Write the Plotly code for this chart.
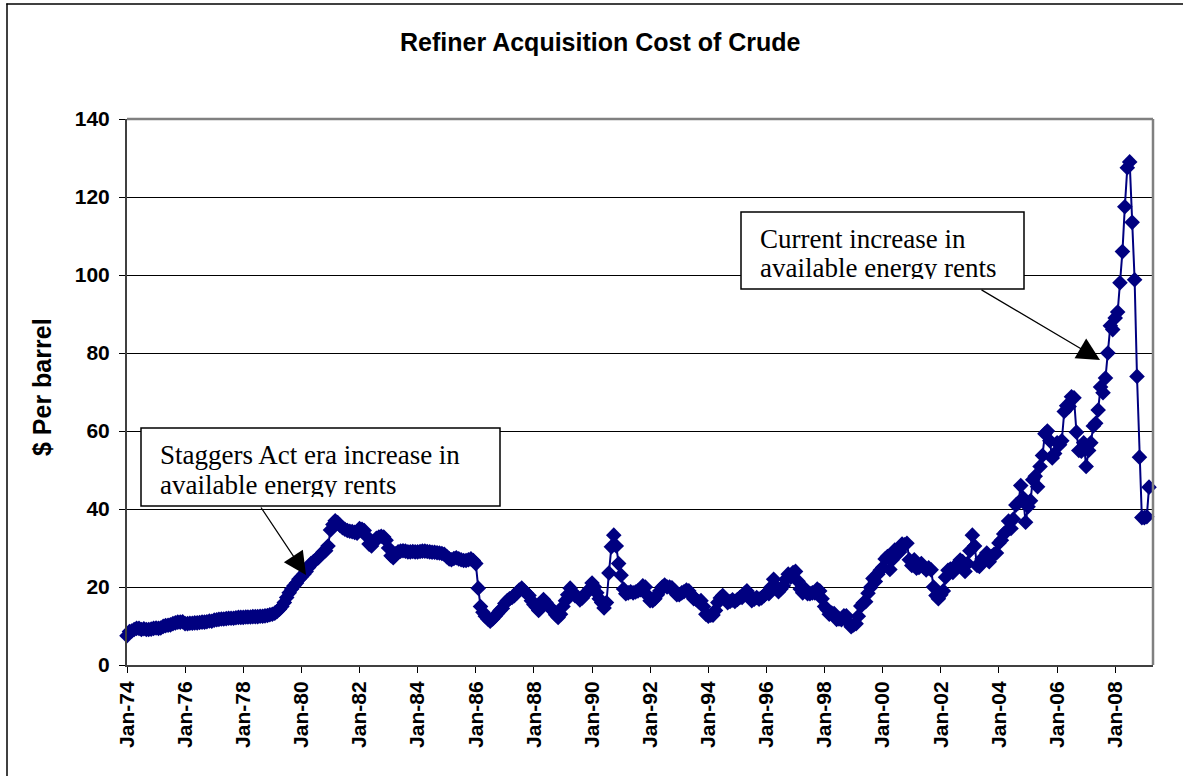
import pandas as pd
import plotly.graph_objects as go

# Monthly refiner acquisition cost of crude ($/bbl)
y1974 = [7.5, 8.6, 8.7, 9.1, 9.4, 9.4, 9.1, 9.3, 9.1, 9.1, 9.2, 9.4]
y1975 = [9.5, 9.4, 9.5, 9.9, 10.1, 10.2, 10.3, 10.6, 10.8, 11.0, 11.0, 11.1]
y1976 = [10.6, 10.6, 10.7, 10.7, 10.8, 10.8, 10.9, 11.0, 11.0, 11.1, 11.3, 11.2]
y1977 = [11.5, 11.6, 11.7, 11.8, 11.8, 11.9, 12.0, 12.0, 12.0, 12.1, 12.2, 12.2]
y1978 = [12.2, 12.3, 12.3, 12.3, 12.4, 12.4, 12.4, 12.5, 12.5, 12.6, 12.7, 12.9]
y1979 = [13.0, 13.3, 13.7, 14.3, 15.0, 16.0, 17.3, 18.5, 19.5, 20.3, 21.0, 22.0]
y1980 = [22.6, 23.3, 24.0, 25.0, 26.0, 26.5, 27.0, 27.5, 28.3, 29.0, 29.3, 30.5]
y1981 = [34.6, 36.0, 37.0, 36.5, 35.8, 35.2, 34.8, 34.5, 34.3, 34.2, 34.0, 33.8]
y1982 = [35.0, 34.8, 34.5, 33.0, 31.0, 30.5, 31.5, 32.5, 32.8, 33.0, 32.8, 32.0]
y1983 = [30.0, 28.0, 27.5, 28.5, 29.0, 29.2, 29.3, 29.2, 29.0, 29.0, 29.1, 29.0]
y1984 = [29.0, 29.1, 29.2, 29.2, 29.1, 29.0, 28.9, 28.9, 28.8, 28.7, 28.6, 28.4]
y1985 = [27.8, 27.2, 27.0, 27.3, 27.5, 27.2, 27.0, 26.8, 26.8, 27.0, 27.2, 26.8]
y1986 = [26.0, 19.7, 15.0, 13.5, 12.5, 11.8, 11.2, 11.8, 12.5, 13.2, 14.0, 14.5]
y1987 = [15.8, 16.5, 17.0, 17.3, 17.8, 18.5, 19.2, 19.7, 19.0, 18.4, 17.8, 16.5]
y1988 = [15.5, 14.8, 14.0, 15.2, 16.8, 16.0, 15.2, 14.6, 13.8, 12.9, 12.2, 13.0]
y1989 = [15.0, 16.5, 18.0, 19.7, 18.5, 17.8, 17.5, 16.7, 17.2, 18.0, 18.8, 19.5]
y1990 = [21.0, 20.0, 18.5, 17.0, 16.0, 14.6, 16.0, 23.6, 30.3, 33.3, 30.5, 26.0]
y1991 = [23.0, 19.5, 18.3, 18.5, 18.8, 18.5, 18.7, 19.0, 19.3, 20.3, 20.0, 17.8]
y1992 = [16.5, 16.5, 17.0, 18.0, 19.0, 20.0, 20.5, 20.0, 20.0, 19.8, 19.0, 18.0]
y1993 = [18.0, 18.5, 18.8, 19.2, 19.0, 18.0, 17.0, 16.8, 16.2, 16.5, 15.0, 13.0]
y1994 = [12.5, 12.8, 12.8, 14.0, 16.0, 17.2, 17.8, 17.0, 16.0, 16.3, 16.7, 16.3]
y1995 = [16.8, 17.3, 17.3, 18.4, 19.0, 17.8, 16.5, 16.9, 17.3, 16.9, 17.2, 17.8]
y1996 = [18.4, 18.3, 20.0, 22.0, 20.0, 18.8, 19.5, 20.3, 22.0, 23.3, 22.5, 23.7]
y1997 = [24.0, 21.5, 19.5, 18.5, 19.5, 18.3, 18.3, 18.5, 18.5, 19.5, 19.0, 17.0]
y1998 = [15.0, 14.2, 13.0, 13.3, 13.2, 11.7, 11.8, 11.6, 12.6, 12.6, 10.8, 9.8]
y1999 = [10.3, 10.6, 12.5, 15.1, 15.9, 16.2, 18.4, 19.9, 22.2, 21.4, 23.3, 24.3]
y2000 = [25.0, 27.2, 27.8, 24.5, 27.0, 29.5, 28.5, 29.0, 31.0, 30.8, 31.2, 27.0]
y2001 = [25.5, 27.0, 24.8, 25.0, 26.0, 25.0, 24.4, 24.9, 24.4, 20.0, 17.8, 17.0]
y2002 = [18.0, 19.0, 22.5, 24.3, 24.6, 23.7, 25.2, 26.0, 26.9, 26.5, 24.0, 26.0]
y2003 = [29.3, 33.3, 30.5, 25.5, 25.3, 27.2, 27.5, 28.7, 26.5, 27.8, 28.4, 28.7]
y2004 = [31.3, 32.0, 33.6, 34.2, 36.9, 35.0, 37.4, 41.0, 41.6, 46.0, 42.8, 36.6]
y2005 = [40.6, 42.1, 47.5, 48.4, 45.7, 50.9, 53.7, 59.3, 60.0, 57.5, 53.1, 54.2]
y2006 = [57.0, 56.5, 57.5, 65.0, 66.5, 66.3, 68.8, 68.5, 59.7, 55.0, 54.8, 57.0]
y2007 = [50.9, 55.0, 57.0, 61.3, 62.0, 65.4, 71.3, 69.8, 73.6, 80.0, 87.0, 86.0]
y2008 = [89.0, 90.5, 98.0, 106.0, 117.5, 127.5, 129.0, 113.5, 98.8, 74.0, 53.3, 37.8]
y2009 = [37.8, 38.0, 45.6]

values = (y1974 + y1975 + y1976 + y1977 + y1978 + y1979 + y1980 + y1981 + y1982
          + y1983 + y1984 + y1985 + y1986 + y1987 + y1988 + y1989 + y1990 + y1991
          + y1992 + y1993 + y1994 + y1995 + y1996 + y1997 + y1998 + y1999 + y2000
          + y2001 + y2002 + y2003 + y2004 + y2005 + y2006 + y2007 + y2008 + y2009)
months = pd.date_range("1974-01-01", periods=len(values), freq="MS")

title_text = "Refiner Acquisition Cost of Crude"
yaxis_title = "$ Per barrel"
note1 = ["Staggers Act era increase in", "available energy rents"]
note2 = ["Current increase in", "available energy rents"]

W, H = 1183, 776
L, R, T, B = 127, 1153, 119, 665


def px(x):
    return (x - L) / (R - L)


def py(y):
    return (B - y) / (B - T)


NAVY = "#000080"
SANS = "Liberation Sans, Arial, sans-serif"
SERIF = "Liberation Serif, Times New Roman, serif"

fig = go.Figure()
fig.add_trace(go.Scatter(
    x=months, y=values, mode="lines+markers",
    line=dict(color=NAVY, width=2),
    marker=dict(symbol="diamond", size=12, color=NAVY, line=dict(width=0)),
    cliponaxis=False, showlegend=False,
))

fig.update_layout(
    width=W, height=H,
    margin=dict(l=L, r=W - R, t=T, b=H - B, pad=0),
    paper_bgcolor="white", plot_bgcolor="white",
    font=dict(family=SANS, color="black"),
    xaxis=dict(
        type="date", range=["1974-01-01", "2009-04-20"],
        tick0="1974-01-01", dtick="M24", tickformat="%b-%y",
        tickangle=-90, ticks="outside", ticklen=6, tickcolor="black", tickwidth=1,
        tickfont=dict(family=SANS, size=21, weight="bold", color="black"),
        showgrid=False, zeroline=False,
        showline=True, linecolor="#404040", linewidth=2,
    ),
    yaxis=dict(
        range=[0, 140], dtick=20, tick0=0,
        ticks="outside", ticklen=6, tickcolor="black", tickwidth=1,
        tickfont=dict(family=SANS, size=21, weight="bold", color="black"),
        ticklabelstandoff=5,
        showgrid=True, gridcolor="black", gridwidth=1,
        zeroline=False, showline=True, linecolor="#404040", linewidth=2,
    ),
)

shapes = [
    # outer chart border (left and top visible)
    dict(type="line", xref="paper", yref="paper", x0=px(7), x1=px(7), y0=py(3.5), y1=py(H + 5),
         line=dict(color="black", width=1.5)),
    dict(type="line", xref="paper", yref="paper", x0=px(6.3), x1=px(W + 5), y0=py(4), y1=py(4),
         line=dict(color="black", width=1.5)),
    # plot area border (top and right, gray)
    dict(type="line", xref="paper", yref="paper", x0=0, x1=1, y0=1, y1=1,
         line=dict(color="#808080", width=2.5), layer="above"),
    dict(type="line", xref="paper", yref="paper", x0=1, x1=1, y0=0, y1=1,
         line=dict(color="#808080", width=2.5), layer="above"),
    # text boxes
    dict(type="rect", xref="paper", yref="paper", x0=px(141), x1=px(500), y0=py(506), y1=py(428),
         fillcolor="white", line=dict(color="black", width=1.5), layer="above"),
    dict(type="rect", xref="paper", yref="paper", x0=px(741), x1=px(1024), y0=py(289), y1=py(212),
         fillcolor="white", line=dict(color="black", width=1.5), layer="above"),
]
fig.update_layout(shapes=shapes)

ann = []
ann.append(dict(text="<b>" + title_text + "</b>", xref="paper", yref="paper",
                x=px(600), y=py(42), xanchor="center", yanchor="middle", showarrow=False,
                font=dict(family=SANS, size=25, color="black")))
ann.append(dict(text="<b>" + yaxis_title + "</b>", xref="paper", yref="paper",
                x=px(42), y=py(387), xanchor="center", yanchor="middle", showarrow=False,
                textangle=-90, font=dict(family=SANS, size=25, color="black")))
# box 1 text
ann.append(dict(text=note1[0], xref="paper", yref="paper", x=px(159), y=py(439),
                xanchor="left", yanchor="top", showarrow=False, borderpad=0,
                font=dict(family=SERIF, size=27, color="black")))
ann.append(dict(text=note1[1], xref="paper", yref="paper", x=px(159), y=py(469),
                xanchor="left", yanchor="top", showarrow=False, borderpad=0,
                height=27, valign="top",
                font=dict(family=SERIF, size=27, color="black")))
# box 2 text
ann.append(dict(text=note2[0], xref="paper", yref="paper", x=px(759), y=py(223),
                xanchor="left", yanchor="top", showarrow=False, borderpad=0,
                font=dict(family=SERIF, size=27, color="black")))
ann.append(dict(text=note2[1], xref="paper", yref="paper", x=px(759), y=py(252),
                xanchor="left", yanchor="top", showarrow=False, borderpad=0,
                height=26, valign="top",
                font=dict(family=SERIF, size=27, color="black")))
# arrows
ann.append(dict(text="", xref="paper", yref="paper", x=px(306), y=py(575),
                ax=260 - 306, ay=506 - 575, showarrow=True, arrowhead=2,
                arrowsize=3.8, arrowwidth=1.2, arrowcolor="black"))
ann.append(dict(text="", xref="paper", yref="paper", x=px(1100), y=py(360),
                ax=980 - 1100, ay=289 - 360, showarrow=True, arrowhead=2,
                arrowsize=3.8, arrowwidth=1.2, arrowcolor="black"))
fig.update_layout(annotations=ann)

fig.write_html(
    "out.html",
    config={"displayModeBar": False},
    post_script="document.body.style.margin='0';document.body.style.padding='0';",
)
